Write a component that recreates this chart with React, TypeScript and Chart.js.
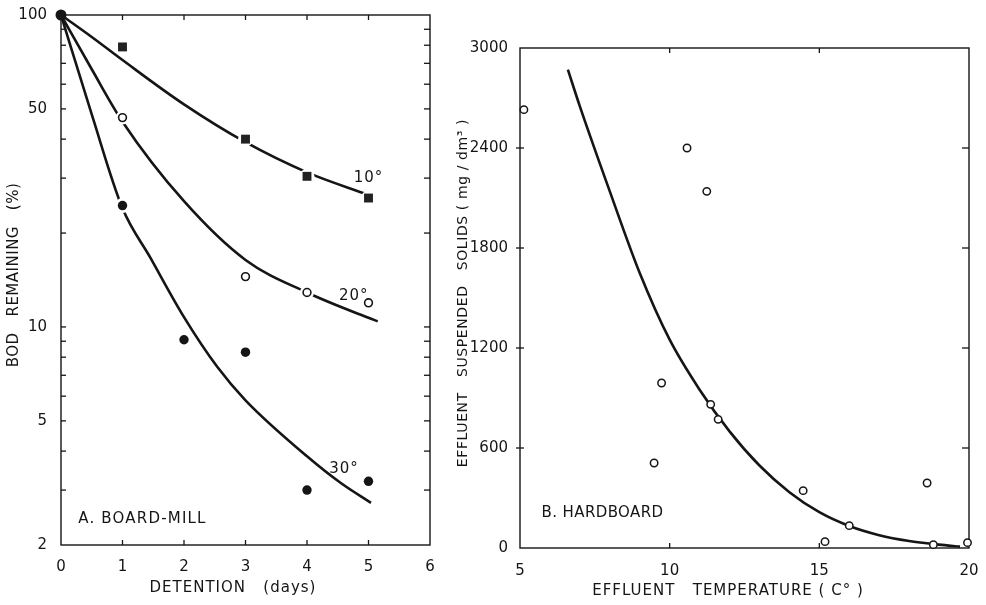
import React, { useEffect, useRef } from 'react';
import Chart from 'chart.js/auto';

// ---------- Panel A: BOD remaining vs detention ----------
const detentionTicks = [0, 1, 2, 3, 4, 5, 6];
const bodTicks = [2, 5, 10, 50, 100];
const bodMinorTicks = [3, 4, 5, 6, 7, 8, 9, 10, 20, 30, 40, 50, 60, 70, 80, 90];
const detentionInnerTicks = [1, 2, 3, 4, 5];

const days10 = [1, 3, 4, 5];
const bod10 = [79, 40, 30.4, 25.9];
const days20 = [1, 3, 4, 5];
const bod20 = [46.9, 14.5, 12.9, 11.95];
const days30 = [0, 1, 2, 3, 4, 5];
const bod30 = [100, 24.5, 9.1, 8.3, 3.0, 3.2];

const fitDays10 = [0, 0.5, 1, 2, 3, 4, 5];
const fitBod10 = [100, 85, 71.7, 51.7, 39.1, 31.3, 26.5];
const fitDays20 = [0, 0.5, 1, 2, 3, 4, 5, 5.15];
const fitBod20 = [100, 67, 45.5, 25.3, 16.4, 12.9, 10.7, 10.43];
const fitDays30 = [0, 0.5, 1, 1.45, 2, 2.54, 3, 4, 4.55, 5.04];
const fitBod30 = [100, 48, 24, 16.7, 10.75, 7.45, 5.82, 3.85, 3.16, 2.73];

// ---------- Panel B: suspended solids vs temperature ----------
const tempTicks = [5, 10, 15, 20];
const tempInnerTicks = [10, 15];
const solidsTicks = [0, 600, 1200, 1800, 2400, 3000];
const solidsInnerTicks = [600, 1200, 1800, 2400];
const tempC = [5.13, 9.48, 9.73, 10.58, 11.24, 11.37, 11.62, 14.46, 15.19, 16.0, 18.6, 18.81, 19.95];
const solids = [2630, 510, 990, 2400, 2140, 862, 772, 344, 38, 134, 390, 20, 32];
const fitTemp = [6.6, 7, 8, 9, 10, 11, 12, 13, 14, 15, 16, 17, 18, 19, 19.7];
const fitSolids = [2870, 2650, 2140, 1650, 1250, 950, 700, 495, 335, 215, 132, 77, 42, 20, 8];

const INK = '#151515';
const FAMILY = '"DejaVu Sans", sans-serif';

const pts = (xs: number[], ys: number[]) => xs.map((x, i) => ({ x, y: ys[i] }));

type TickSpec = { axis: string; side: 'left' | 'right' | 'top' | 'bottom'; values: number[]; inner: number; outer: number };
type NoteSpec = { text: string; x: number; y: number; size: number; spacing: number };
type TitleSpec = { text: string; cx: number; cy: number; size: number; spacing: number; rotate: boolean };

function makeDecor(ticks: TickSpec[], notes: NoteSpec[], titles: TitleSpec[]) {
  return {
    id: 'decor',
    beforeDatasetsDraw(chart: any) {
      const { ctx, chartArea: a, scales } = chart;
      ctx.save();
      ctx.strokeStyle = INK;
      ctx.lineWidth = 1.4;
      ctx.strokeRect(a.left, a.top, a.right - a.left, a.bottom - a.top);
      ctx.lineWidth = 1.3;
      for (const t of ticks) {
        const sc = scales[t.axis];
        for (const v of t.values) {
          const p = sc.getPixelForValue(v);
          ctx.beginPath();
          if (t.side === 'left') { ctx.moveTo(a.left - t.outer, p); ctx.lineTo(a.left + t.inner, p); }
          if (t.side === 'right') { ctx.moveTo(a.right + t.outer, p); ctx.lineTo(a.right - t.inner, p); }
          if (t.side === 'top') { ctx.moveTo(p, a.top - t.outer); ctx.lineTo(p, a.top + t.inner); }
          if (t.side === 'bottom') { ctx.moveTo(p, a.bottom + t.outer); ctx.lineTo(p, a.bottom - t.inner); }
          ctx.stroke();
        }
      }
      ctx.restore();
    },
    afterDraw(chart: any) {
      const { ctx, scales } = chart;
      ctx.save();
      ctx.fillStyle = INK;
      for (const n of notes) {
        ctx.font = `${n.size}px ${FAMILY}`;
        if ('letterSpacing' in ctx) ctx.letterSpacing = `${n.spacing}px`;
        ctx.textAlign = 'left';
        ctx.textBaseline = 'middle';
        ctx.fillText(n.text, scales.x.getPixelForValue(n.x), scales.y.getPixelForValue(n.y));
      }
      for (const t of titles) {
        ctx.save();
        ctx.font = `${t.size}px ${FAMILY}`;
        if ('letterSpacing' in ctx) ctx.letterSpacing = `${t.spacing}px`;
        ctx.textAlign = 'center';
        ctx.textBaseline = 'middle';
        ctx.translate(t.cx, t.cy);
        if (t.rotate) ctx.rotate(-Math.PI / 2);
        ctx.fillText(t.text, 0, 0);
        ctx.restore();
      }
      ctx.restore();
    },
  };
}

function configA(): any {
  const tickFont = { family: FAMILY, size: 15 };
  const curve = (data: any) => ({
    data, showLine: true, pointRadius: 0, borderColor: INK, borderWidth: 2.6,
    cubicInterpolationMode: 'monotone', fill: false,
  });
  const halo = (data: any, r: number) => ({
    data, showLine: false, backgroundColor: '#ffffff', borderWidth: 0,
    pointRadius: (c: any) => (c.raw && c.raw.x === 0 ? 0 : r), pointHoverRadius: 0, clip: false,
  });
  return {
    type: 'scatter',
    data: {
      datasets: [
        { data: pts(days10, bod10), pointStyle: 'rect', pointRadius: 6.3, backgroundColor: '#222', borderColor: '#222', borderWidth: 0, clip: false },
        { data: pts(days20, bod20), pointStyle: 'circle', pointRadius: 3.9, backgroundColor: '#fff', borderColor: INK, borderWidth: 1.6, clip: false },
        { data: pts(days30, bod30), pointStyle: 'circle', pointRadius: (c: any) => (c.raw && c.raw.x === 0 ? 5.5 : 4.7), backgroundColor: INK, borderWidth: 0, clip: false },
        halo(pts(days10, bod10), 7.5),
        halo(pts(days20, bod20), 7),
        halo(pts(days30, bod30), 7.5),
        curve(pts(fitDays10, fitBod10)),
        curve(pts(fitDays20, fitBod20)),
        curve(pts(fitDays30, fitBod30)),
      ],
    },
    options: {
      animation: false,
      responsive: false,
      maintainAspectRatio: false,
      layout: { padding: { top: 13, right: 20, left: 0, bottom: 0 } },
      plugins: { legend: { display: false }, tooltip: { enabled: false } },
      scales: {
        x: {
          type: 'linear', min: 0, max: 6, position: 'bottom',
          grid: { display: false }, border: { display: false },
          ticks: { padding: 5, font: tickFont, color: INK, maxRotation: 0 },
          afterBuildTicks: (s: any) => { s.ticks = detentionTicks.map((v) => ({ value: v })); },
          afterFit: (s: any) => { s.height = 60; },
        },
        y: {
          type: 'logarithmic', min: 2, max: 100, position: 'left',
          grid: { display: false }, border: { display: false },
          ticks: { padding: 6, font: tickFont, color: INK, callback: (v: any) => String(v) },
          afterBuildTicks: (s: any) => { s.ticks = bodTicks.map((v) => ({ value: v })); },
          afterFit: (s: any) => { s.width = 61; },
        },
      },
    },
    plugins: [
      makeDecor(
        [
          { axis: 'y', side: 'left', values: bodMinorTicks, inner: 5, outer: 0 },
          { axis: 'y', side: 'right', values: bodMinorTicks, inner: 6, outer: 0 },
          { axis: 'x', side: 'top', values: detentionInnerTicks, inner: 5, outer: 0 },
          { axis: 'x', side: 'bottom', values: detentionInnerTicks, inner: 5, outer: 0 },
        ],
        [
          { text: '10°', x: 4.76, y: 30.0, size: 15, spacing: 1 },
          { text: '20°', x: 4.52, y: 12.6, size: 15, spacing: 1 },
          { text: '30°', x: 4.36, y: 3.51, size: 15, spacing: 1 },
          { text: 'A. BOARD-MILL', x: 0.28, y: 2.43, size: 15, spacing: 1.2 },
        ],
        [
          { text: 'DETENTION   (days)', cx: 233, cy: 588, size: 15, spacing: 1, rotate: false },
          { text: 'BOD   REMAINING   (%)', cx: 14, cy: 275, size: 15, spacing: 0.5, rotate: true },
        ],
      ),
    ],
  };
}

function configB(): any {
  const tickFont = { family: FAMILY, size: 15 };
  return {
    type: 'scatter',
    data: {
      datasets: [
        { data: pts(tempC, solids), pointStyle: 'circle', pointRadius: 3.7, backgroundColor: '#fff', borderColor: INK, borderWidth: 1.5, clip: false },
        {
          data: pts(fitTemp, fitSolids), showLine: true, pointRadius: 0, borderColor: INK, borderWidth: 2.6,
          cubicInterpolationMode: 'monotone', fill: false,
        },
      ],
    },
    options: {
      animation: false,
      responsive: false,
      maintainAspectRatio: false,
      layout: { padding: { top: 48, right: 17, left: 0, bottom: 0 } },
      plugins: { legend: { display: false }, tooltip: { enabled: false } },
      scales: {
        x: {
          type: 'linear', min: 5, max: 20, position: 'bottom',
          grid: { display: false }, border: { display: false },
          ticks: { padding: 6, font: tickFont, color: INK, maxRotation: 0, callback: (v: any) => String(v) },
          afterBuildTicks: (s: any) => { s.ticks = tempTicks.map((v) => ({ value: v })); },
          afterFit: (s: any) => { s.height = 57; },
        },
        y: {
          type: 'linear', min: 0, max: 3000, position: 'left',
          grid: { display: false }, border: { display: false },
          ticks: { padding: 4, font: tickFont, color: INK, callback: (v: any) => String(v) },
          afterBuildTicks: (s: any) => { s.ticks = solidsTicks.map((v) => ({ value: v })); },
          afterFit: (s: any) => { s.width = 70; },
        },
      },
    },
    plugins: [
      makeDecor(
        [
          { axis: 'y', side: 'left', values: solidsInnerTicks, inner: 4, outer: 4 },
          { axis: 'y', side: 'right', values: solidsInnerTicks, inner: 7, outer: 0 },
          { axis: 'x', side: 'top', values: tempInnerTicks, inner: 5, outer: 0 },
          { axis: 'x', side: 'bottom', values: tempInnerTicks, inner: 5, outer: 0 },
        ],
        [{ text: 'B. HARDBOARD', x: 5.72, y: 210, size: 15, spacing: 0.4 }],
        [
          { text: 'EFFLUENT   TEMPERATURE ( C° )', cx: 278, cy: 591, size: 15, spacing: 1, rotate: false },
          { text: 'EFFLUENT   SUSPENDED   SOLIDS ( mg / dm³ )', cx: 13, cy: 293, size: 14, spacing: 0.6, rotate: true },
        ],
      ),
    ],
  };
}

function Panel({ make, left, width }: { make: () => any; left: number; width: number }) {
  const ref = useRef<HTMLCanvasElement>(null);
  useEffect(() => {
    if (!ref.current) return;
    const chart = new Chart(ref.current, make());
    return () => chart.destroy();
  }, []);
  return (
    <canvas
      ref={ref}
      width={width}
      height={605}
      style={{ position: 'absolute', left, top: 0, width, height: 605 }}
    />
  );
}

export default function App() {
  return (
    <div style={{ position: 'absolute', left: 0, top: 0, width: 986, height: 605, background: '#ffffff', overflow: 'hidden' }}>
      <Panel make={configA} left={0} width={450} />
      <Panel make={configB} left={450} width={536} />
    </div>
  );
}
